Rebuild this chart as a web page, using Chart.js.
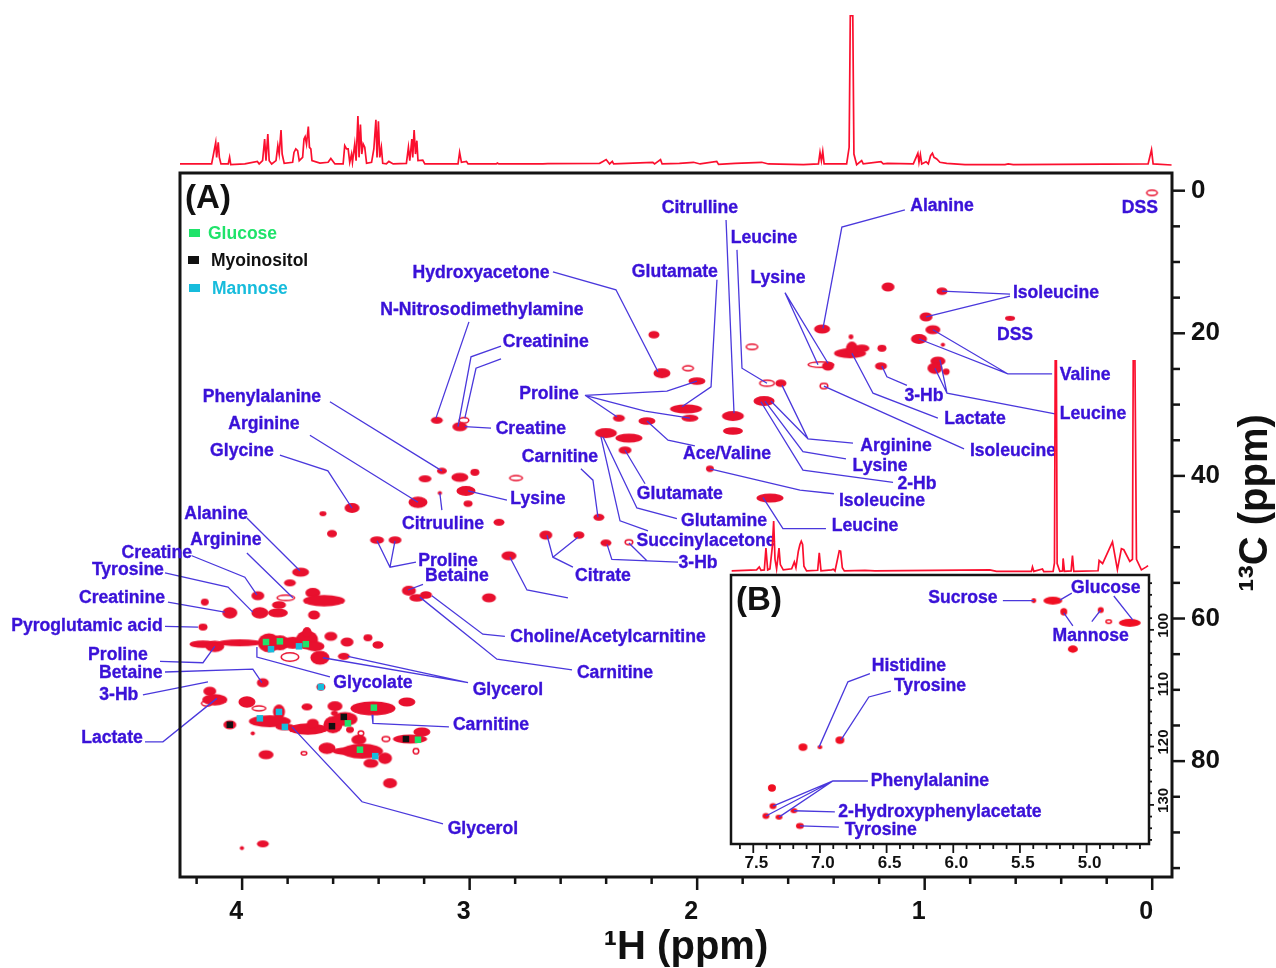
<!DOCTYPE html>
<html>
<head>
<meta charset="utf-8">
<title>2D HSQC spectrum</title>
<script src="https://cdn.jsdelivr.net/npm/chart.js@4"></script>
<style>
    html, body { margin: 0; background: #fff; overflow: hidden; }
    canvas { position: absolute; }
</style>
</head>
<body>
<canvas id="topSpec" style="left:180px;top:15px" width="992" height="153"></canvas>
<canvas id="main" style="left:0;top:0" width="1276" height="968"></canvas>
<canvas id="insetSpec" style="left:731px;top:360px" width="418" height="215"></canvas>
<canvas id="inset" style="left:0;top:0" width="1276" height="968"></canvas>
<script>
// 1H projection above panel A
const topSpecH = [4.277,4.134,4.127,4.116,4.112,4.105,4.100,4.093,4.061,4.055,4.050,3.988,3.933,3.925,3.910,3.901,3.895,3.887,3.881,3.870,3.851,3.843,3.837,3.829,3.824,3.815,3.778,3.772,3.764,3.756,3.749,3.734,3.728,3.723,3.717,3.709,3.704,3.698,3.693,3.658,3.622,3.610,3.592,3.556,3.549,3.541,3.534,3.527,3.519,3.515,3.505,3.499,3.491,3.486,3.480,3.474,3.468,3.461,3.453,3.431,3.421,3.412,3.407,3.401,3.395,3.388,3.382,3.366,3.355,3.336,3.278,3.269,3.263,3.254,3.250,3.244,3.238,3.232,3.227,3.206,3.197,3.051,3.044,3.036,3.014,3.007,2.883,2.878,2.872,2.678,2.656,2.429,2.414,2.400,2.385,2.373,2.367,2.195,2.187,2.161,2.154,2.078,2.016,1.987,1.914,1.906,1.833,1.716,1.687,1.533,1.467,1.460,1.454,1.448,1.442,1.343,1.332,1.327,1.316,1.311,1.299,1.277,1.270,1.192,1.182,1.164,1.050,1.030,1.025,1.019,1.013,0.994,0.984,0.974,0.966,0.959,0.947,0.933,0.903,0.823,0.647,0.633,0.611,0.018,0.003,-0.004,-0.085];
const topSpecI = [0.7,0.7,6.2,15.1,5.1,15.1,5.1,0.7,0.7,5.1,0.2,0.7,2.4,0.7,2.9,17.3,2.9,20.7,2.9,0.7,2.9,12.9,7.3,23.3,7.3,1.1,1.8,8.4,10.7,9.6,2.9,5.1,17.3,18.9,14,25.6,11.8,10.7,2.9,1.3,1.8,4.4,0.7,0.7,12.9,10.7,10.7,1.8,7.3,1.8,14,2.9,32.7,5.1,26.9,7.3,14,11.8,1.1,1.8,10.7,30.2,5.1,29.1,5.1,11.8,1.1,0.7,2.4,0.7,1.1,11.8,2.9,17.3,5.1,23.3,7.3,16.2,2.9,3.3,0.7,0.7,8.4,1.8,2.4,0.7,0.7,1.3,0.7,0.7,0.9,1.1,2.4,3.6,0.7,2.4,0.7,1.8,0.7,3.6,0.7,1.1,1.8,0.7,2.4,0.4,1.1,1.8,0.7,0.2,0.7,8.4,2.9,9.1,0.7,0.7,11.8,99.5,99.5,7.3,0.2,2.9,0.7,2.2,0.7,1.1,0.7,7.8,1.8,6.9,0.7,2.2,0.7,6.2,7.8,5.1,4,1.8,1.1,0.2,0.2,0.7,0.2,0.7,10.2,0.7,0];

// 1H projection above panel B
const insetSpecH = [7.662,7.475,7.455,7.442,7.417,7.405,7.392,7.375,7.357,7.347,7.337,7.325,7.307,7.297,7.275,7.212,7.192,7.180,7.162,7.150,7.140,7.130,7.120,7.100,7.017,7.005,6.992,6.912,6.900,6.887,6.855,6.845,6.832,6.817,6.662,6.587,5.726,5.676,5.414,5.406,5.396,5.331,5.321,5.251,5.241,5.235,5.227,5.221,5.201,5.180,5.176,5.166,5.116,5.106,5.096,4.914,4.906,4.880,4.806,4.769,4.739,4.721,4.676,4.656,4.650,4.638,4.626,4.589,4.552,4.539];
const insetSpecI = [0.5,1,2.4,0.8,1,11.3,1,1.5,12,24,6,1.5,11.3,3.5,1,1.5,4.7,2,9.8,13,14.5,13,2.7,0.5,0.8,9,0.5,1,1.3,0.5,10,9.8,2,0.5,0.8,0.5,1,0.3,0.3,2.4,0.3,1.4,0.2,0.3,4.3,105,105,4,0.3,0.5,6.4,0.3,0.5,7.8,0.3,0.6,5.4,4,14.2,1.1,11,10.5,5,6,105,105,6,1,2.4,3];

// cross peaks of panel A: [1H, 13C, 1H extent, 13C extent] in ppm
const sugarPeaks = [[3.743,53.5,.066,1.0],[3.790,55.0,.044,.7],[3.689,56.4,.057,1.1],[3.640,57.5,.176,1.3],[3.931,56.8,.048,1.0],[3.838,58.1,.053,.8],[3.922,59.2,.066,1.3],[3.843,59.2,.079,1.0],[4.054,59.2,.057,1.3],[4.164,57.7,.026,.7],[3.684,59.5,.044,1.0],[4.172,61.2,.031,.7],[4.172,63.6,.11,.8],[4.120,63.9,.075,1.3],[4.010,63.4,.189,.7],[3.882,63.4,.088,2.4],[3.834,63.4,.075,1.8],[3.777,63.4,.088,1.4],[3.715,63.0,.088,2.4],[3.680,63.9,.075,1.1],[3.715,61.9,.031,1.1],[3.610,62.5,.048,1.0],[3.539,63.3,.048,1.0],[3.447,62.7,.031,.7],[3.403,63.7,.04,.8],[3.658,65.5,.075,1.7],[3.553,65.3,.044,.7],[3.909,69.0,.044,1.0],[4.142,70.2,.048,1.0],[4.120,71.4,.101,1.3],[3.979,71.7,.066,1.3],[3.654,69.6,.031,.8],[3.715,72.4,.04,.7],[3.592,72.3,.057,1.1],[3.425,72.6,.189,1.7],[3.276,71.7,.066,1.0],[4.054,74.9,.048,1.0],[3.838,73.1,.044,1.8],[3.878,74.4,.176,1.4],[3.812,75.2,.075,.7],[3.711,75.5,.163,1.3],[3.689,74.7,.044,1.0],[3.601,74.9,.075,2.1],[3.548,74.1,.101,1.7],[3.526,75.6,.026,.6],[3.594,73.3,.022,.4],[3.487,77.0,.057,1.1],[3.262,76.9,.141,1.0],[3.210,75.9,.066,1.0],[3.627,78.2,.066,1.3],[3.539,78.6,.119,.8],[3.473,78.6,.176,1.8],[3.434,80.3,.057,1.0],[3.372,79.6,.053,1.3],[3.350,83.1,.053,1.1],[3.895,79.1,.057,1.0],[3.909,91.6,.044,.7],[4.001,92.2,.01,.3],[3.953,76.1,.01,.3]];
const midPeaks = [[2.155,25.6,.066,1.1],[2.001,26.7,.066,.8],[2.049,30.6,.132,1.0],[2.032,31.9,.066,.7],[2.221,32.3,.066,.8],[2.344,31.9,.044,.7],[2.401,34.0,.088,1.1],[2.300,34.7,.11,1.0],[2.317,36.4,.048,.8],[1.944,39.0,.026,.6],[3.144,32.2,.044,.7],[3.043,33.1,.057,1.0],[3.122,39.3,.035,.6],[3.196,40.4,.048,.7],[3.043,40.2,.066,1.0],[2.977,39.5,.031,.7],[3.016,42.1,.075,1.1],[3.007,43.9,.031,.6],[3.227,43.7,.075,1.3],[2.871,46.5,.04,.7],[3.131,42.4,.01,.3],[2.432,45.8,.04,.7],[2.665,48.3,.048,1.0],[2.520,48.3,.04,.8],[2.401,49.4,.04,.7],[2.827,51.2,.057,1.0],[2.915,57.1,.053,1.0],[3.267,56.1,.053,1.1],[3.192,56.7,.044,.8],[3.232,57.1,.057,.8],[3.605,48.1,.035,.8],[3.645,45.3,.022,.4],[3.517,44.5,.057,1.1],[3.407,49.0,.053,.8],[3.328,49.0,.048,.8],[2.190,20.2,.04,.8]];
const methylPeaks = [[1.161,13.5,.048,1.0],[.924,14.1,.04,.8],[1.451,19.4,.062,1.0],[.994,17.7,.048,1.0],[.964,19.5,.057,1.0],[1.025,20.8,.062,1.1],[.920,21.6,.01,.3],[1.324,20.5,.013,.4],[1.328,22.8,.132,1.1],[1.320,22.2,.044,1.8],[1.276,22.1,.057,.8],[1.188,22.1,.031,.7],[1.192,24.6,.044,.8],[1.425,24.6,.044,1.0],[1.632,27.0,.04,.8],[1.706,29.5,.084,1.1],[.942,23.9,.057,1.0],[.955,24.9,.057,1.3],[.906,25.4,.022,.6],[1.843,31.6,.088,1.1],[1.843,33.7,.079,.8],[1.680,43.1,.11,1.0],[.625,17.9,.035,.4]];
// the ones that show as open contours
const openPeaks = [[3.808,57.1,.075,.7],[3.790,65.4,.075,1.1],[4.155,71.9,.044,.7],[3.926,72.6,.057,.6],[3.478,76.1,.022,.6],[3.368,76.9,.031,.6],[3.236,78.6,.022,.7],[3.728,78.9,.022,.4],[2.040,24.9,.044,.6],[3.025,32.2,.04,.7],[2.796,40.3,.053,.6],[2.300,49.3,.031,.6],[1.759,21.9,.048,.7],[1.456,24.4,.11,.7],[1.443,27.4,.031,.7],[1.693,27.0,.062,.8],[.001,.3,.044,.7]];

// sugar assignment squares of panel A: [1H, 13C]
const glucosePoints = [[3.895,63.3],[3.834,63.2],[3.720,63.6],[3.421,72.5],[3.535,74.7],[3.482,78.4],[3.227,77.0]];
const myoinositolPoints = [[4.054,74.9],[3.553,73.8],[3.605,75.1],[3.280,76.9]];
const mannosePoints = [[3.873,64.3],[3.750,63.9],[3.654,69.6],[3.838,73.1],[3.922,74.0],[3.812,75.2],[3.415,79.3]];

// cross peaks of panel B
const insetPeaks = [[5.396,95.0,.022,.5],[5.253,95.0,.127,1.0],[5.171,96.9,.037,.9],[4.894,96.6,.03,.7],[4.676,98.8,.15,1.0],[5.103,103.3,.06,.9],[7.127,120.1,.052,.9],[7.0,120.1,.022,.3],[6.85,118.9,.052,.9],[7.36,127.1,.045,.9],[7.352,130.2,.037,.7],[7.405,131.9,.037,.7],[7.307,132.1,.037,.5],[7.195,131.0,.037,.5],[7.150,133.6,.045,.7]];
const insetOpenPeaks = [[4.834,98.6,.037,.5]];

// assignment leader lines: H,C,H,C,...
const mainLeaders = [
    [1.087,2.7,1.364,5.1,1.447,19.3],
    [1.873,4.1,1.838,31.2],
    [1.825,8.3,1.803,24.9,1.693,27.0],
    [1.913,12.5,1.939,27.5,2.067,30.3],
    [2.634,11.4,2.357,13.9,2.172,25.4],
    [3.003,18.4,3.148,31.9],
    [2.862,21.8,2.994,23.3,3.051,33.1],
    [2.862,23.6,2.972,24.9,3.021,31.9],
    [2.906,33.3,3.021,33.1],
    [2.493,28.7,2.133,28.1,2.001,26.7],
    [2.493,28.7,2.229,30.9,2.032,31.9],
    [2.493,28.7,2.353,31.7],
    [2.221,32.3,2.128,35.0,2.010,35.8],
    [2.317,36.4,2.229,41.1],
    [2.414,34.5,2.265,44.5,2.089,46.0],
    [2.423,34.5,2.339,46.3,2.216,47.7],
    [2.511,39.0,2.458,40.6,2.436,45.8],
    [3.007,42.1,2.836,43.4],
    [2.084,52.1,2.375,51.7,2.396,49.6],
    [2.221,51.9,2.300,49.4],
    [2.660,48.3,2.634,51.4,2.546,52.8],
    [2.634,51.4,2.524,48.6],
    [2.823,51.4,2.748,56.0,2.568,57.1],
    [3.122,44.8,3.131,42.4],
    [3.614,29.6,3.122,39.3],
    [3.702,34.3,3.227,43.7],
    [3.834,37.1,3.623,39.3,3.517,44.5],
    [3.236,52.1,3.350,52.8,3.407,49.1],
    [3.350,52.8,3.328,49.1],
    [3.205,55.2,3.271,56.0],
    [3.166,56.8,2.942,62.2,2.845,62.5],
    [3.219,57.0,2.880,65.7,2.550,67.2],
    [3.979,45.9,3.746,53.3],
    [4.221,51.2,3.988,54.2,3.935,56.7],
    [3.979,50.8,3.777,57.1],
    [4.339,53.6,4.062,55.6,3.953,59.1],
    [4.326,57.7,4.076,59.1],
    [4.339,61.1,4.194,61.2],
    [4.361,66.0,4.172,66.2,4.120,63.9],
    [4.339,67.5,3.953,67.1,3.913,69.0],
    [4.436,70.7,4.150,68.9],
    [4.427,77.3,4.348,77.3,4.111,71.2],
    [3.935,64.0,3.935,65.4,3.614,68.2],
    [3.645,65.5,3.007,69.0],
    [3.535,65.3,3.007,69.0],
    [3.429,73.5,3.425,74.7,3.091,75.2],
    [3.781,75.2,3.473,85.7,3.117,88.8],
    [1.614,14.3,1.469,24.4],
    [1.614,14.3,1.425,24.2],
    [1.188,24.6,1.166,26.1,1.078,27.3],
    [1.320,22.8,1.227,28.4,0.942,31.9],
    [1.443,27.4,0.827,36.2],
    [0.625,14.5,0.924,14.1],
    [0.625,14.8,0.994,17.7],
    [0.964,19.5,0.634,25.7,0.440,25.7],
    [1.025,20.8,0.634,25.7],
    [0.955,24.9,0.902,28.4,0.427,31.3],
    [0.933,23.7,0.902,28.4],
    [1.627,27.3,1.513,34.8,1.315,35.4],
    [1.676,29.5,1.513,34.8],
    [1.702,29.5,1.535,36.6,1.346,37.6],
    [1.720,29.6,1.535,39.2,1.139,40.9],
    [1.944,39.0,1.548,42.0,1.399,42.5],
    [1.711,43.0,1.623,47.4,1.434,47.4]
];
const insetLeaders = [
    [5.628,95.0,5.396,95.0],
    [5.201,94.9,5.111,93.7],
    [4.796,94.2,4.654,98.3],
    [5.103,99.3,5.171,97.1],
    [4.961,98.6,4.894,96.6],
    [6.625,107.5,6.790,108.9,7.007,120.1],
    [6.468,110.5,6.633,111.5,6.843,118.9],
    [6.640,125.9,6.903,125.9,7.352,130.2],
    [6.903,125.9,7.405,131.9],
    [6.903,125.9,7.307,132.1],
    [6.888,131.2,7.195,131.0],
    [6.858,133.8,7.150,133.6]
];

// labels
const mainLabels = ['Citrulline','Alanine','DSS','Leucine','Hydroxyacetone','Glutamate','Lysine','Isoleucine','N-Nitrosodimethylamine','DSS','Creatinine','Valine','Proline','Phenylalanine','3-Hb','Leucine','Lactate','Arginine','Creatine','Arginine','Glycine','Ace/Valine','Isoleucine','Carnitine','Lysine','2-Hb','Glutamate','Lysine','Isoleucine','Alanine','Citruuline','Glutamine','Leucine','Arginine','Succinylacetone','Creatine','Proline','3-Hb','Tyrosine','Betaine','Citrate','Creatinine','Pyroglutamic acid','Choline/Acetylcarnitine','Proline','Betaine','Carnitine','Glycolate','Glycerol','3-Hb','Carnitine','Lactate','Glycerol'];
const mainLabelH = [1.988,.924,.054,1.706,2.950,2.098,1.645,.423,2.946,.603,2.665,.295,2.651,3.913,1.003,.260,.779,3.904,2.731,1.126,4.001,1.869,.612,2.603,1.196,1.034,2.076,2.700,1.188,4.115,3.117,1.882,1.262,4.071,1.961,4.375,3.095,1.996,4.502,3.056,2.414,4.528,4.682,2.392,4.546,4.489,2.361,3.425,2.832,4.542,2.906,4.572,2.942];
const mainLabelC = [2.5,2.1,2.4,6.6,11.5,11.4,12.3,14.4,16.8,20.3,21.3,25.8,28.5,28.9,28.8,31.4,32.1,32.7,33.4,35.8,36.5,36.9,36.5,37.3,38.6,41.2,42.6,43.2,43.5,45.3,46.7,46.3,47.1,49.0,49.2,50.9,51.9,52.2,53.2,54.1,54.0,57.1,61.0,62.6,65.2,67.7,67.6,69.0,70.0,70.8,75.0,76.8,89.5];
const insetLabels = ['Sucrose','Glucose','Mannose','Histidine','Tyrosine','Phenylalanine','2-Hydroxyphenylacetate','Tyrosine'];
const insetLabelH = [5.928,4.856,4.969,6.333,6.175,6.175,6.100,6.543];
const insetLabelC = [94.5,92.8,101.1,106.2,109.6,125.9,131.2,134.3];
const legendNames = ['Glucose','Myoinositol','Mannose'];

// tick positions
const mainXTicks = [4.2,4,3.8,3.6,3.4,3.2,3,2.8,2.6,2.4,2.2,2,1.8,1.6,1.4,1.2,1,0.8,0.6,0.4,0.2,0];
const mainXLabels = [4,3,2,1,0];
const mainYTicks = [0,5,10,15,20,25,30,35,40,45,50,55,60,65,70,75,80,85,90,95];
const mainYLabels = [0,20,40,60,80];
const insetXTicks = [7.6,7.5,7.4,7.3,7.2,7.1,7,6.9,6.8,6.7,6.6,6.5,6.4,6.3,6.2,6.1,6,5.9,5.8,5.7,5.6,5.5,5.4,5.3,5.2,5.1,5,4.9,4.8,4.7,4.6];
const insetXLabels = [7.5,7,6.5,6,5.5,5];
const insetYTicks = [92,94,96,98,100,102,104,106,108,110,112,114,116,118,120,122,124,126,128,130,132,134,136];
const insetYLabels = [100,110,120,130];

const RED = '#e8102e';
const BLUE = '#3a12d8';
const LINE_BLUE = '#4a38dc';
const SQUARES = { Glucose: '#1fe36a', Myoinositol: '#111111', Mannose: '#17bcdc' };
const LABEL_FONT = 'bold 17.6px "Liberation Sans", Arial, sans-serif';

const toPoints = list => list.map(p => ({ x: p[0], y: p[1], dx: p[2], dy: p[3] }));

function leaderPoints(lines) {
    const pts = [];
    lines.forEach(line => {
        for (let i = 0; i < line.length; i += 2) pts.push({ x: line[i], y: line[i + 1] });
        pts.push({ x: null, y: null });
    });
    return pts;
}

// elliptical contour sprite sized through the chart's scales
function peakSprite(c, color, open) {
    const p = c.raw;
    if (!p || !p.dx) return 'circle';
    const sx = c.chart.scales.x, sy = c.chart.scales.y;
    const w = Math.max(2, Math.abs(sx.getPixelForValue(p.x + p.dx / 2) - sx.getPixelForValue(p.x - p.dx / 2))) + 2;
    const h = Math.max(2, Math.abs(sy.getPixelForValue(p.y + p.dy / 2) - sy.getPixelForValue(p.y - p.dy / 2))) + 2;
    const cv = document.createElement('canvas');
    cv.width = Math.ceil(w) + 2;
    cv.height = Math.ceil(h) + 2;
    const g = cv.getContext('2d');
    g.fillStyle = color;
    g.beginPath();
    g.ellipse(cv.width / 2, cv.height / 2, w / 2, h / 2, 0, 0, Math.PI * 2);
    g.fill();
    if (open) {
        g.fillStyle = '#fff';
        g.beginPath();
        g.ellipse(cv.width / 2, cv.height / 2, w / 2 - 1.5, Math.max(0.6, h / 2 - 1.5), 0, 0, Math.PI * 2);
        g.fill();
    }
    return cv;
}

function peakDataset(list, color, open) {
    return {
        data: toPoints(list),
        order: 3,
        showLine: false,
        pointRadius: 3,
        pointBorderWidth: 0,
        pointStyle: c => peakSprite(c, color, open)
    };
}

function squareDataset(list, color) {
    return {
        data: list.map(p => ({ x: p[0], y: p[1] })),
        order: 0,
        showLine: false,
        pointStyle: 'rect',
        pointRadius: 4.6,
        pointBorderWidth: 0,
        pointBackgroundColor: color
    };
}

function leaderDataset(lines) {
    return {
        data: leaderPoints(lines),
        order: 1,
        showLine: true,
        clip: false,
        spanGaps: false,
        borderColor: LINE_BLUE,
        borderWidth: 1.3,
        pointRadius: 0
    };
}

function framePlugin(cfg) {
    return {
        id: 'frame',
        beforeDatasetsDraw(chart) {
            const a = chart.chartArea, g = chart.ctx;
            g.save();
            g.fillStyle = '#fff';
            g.fillRect(a.left, a.top, a.right - a.left, a.bottom - a.top);
            g.restore();
        },
        afterDraw(chart) {
            const a = chart.chartArea, g = chart.ctx;
            g.save();
            g.strokeStyle = '#141414';
            g.lineWidth = cfg.tickWidth;
            cfg.xTicks.forEach(v => {
                const x = chart.scales.x.getPixelForValue(v);
                const len = cfg.xMajor.includes(v) ? cfg.xLen[0] : cfg.xLen[1];
                g.beginPath();
                g.moveTo(x, a.bottom);
                g.lineTo(x, a.bottom + len);
                g.stroke();
            });
            cfg.yTicks.forEach(v => {
                const y = chart.scales.y.getPixelForValue(v);
                const len = cfg.yMajor.includes(v) ? cfg.yLen[0] : cfg.yLen[1];
                g.beginPath();
                g.moveTo(a.right, y);
                g.lineTo(a.right + len, y);
                g.stroke();
            });
            g.lineWidth = cfg.boxWidth;
            g.strokeRect(a.left, a.top, a.right - a.left, a.bottom - a.top);
            g.restore();
        }
    };
}

function textPlugin(texts, hs, cs, panel) {
    return {
        id: 'texts',
        afterDraw(chart) {
            const g = chart.ctx, sx = chart.scales.x, sy = chart.scales.y;
            g.save();
            g.textAlign = 'center';
            g.textBaseline = 'middle';
            g.fillStyle = BLUE;
            g.strokeStyle = BLUE;
            g.lineWidth = 0.35;
            g.font = LABEL_FONT;
            texts.forEach((t, i) => {
                g.fillText(t, sx.getPixelForValue(hs[i]), sy.getPixelForValue(cs[i]));
                g.strokeText(t, sx.getPixelForValue(hs[i]), sy.getPixelForValue(cs[i]));
            });
            g.fillStyle = '#111';
            g.font = 'bold 33px "Liberation Sans", Arial, sans-serif';
            g.fillText(panel.text, sx.getPixelForValue(panel.h), sy.getPixelForValue(panel.c));
            g.restore();
        }
    };
}

// panel A legend and the two axis titles
const mainExtras = {
    id: 'mainExtras',
    afterDraw(chart) {
        const g = chart.ctx, a = chart.chartArea;
        g.save();
        g.textBaseline = 'middle';
        g.textAlign = 'left';
        g.font = 'bold 17.5px "Liberation Sans", Arial, sans-serif';
        const rows = [[a.left + 9, 60, a.left + 28], [a.left + 8, 87, a.left + 31], [a.left + 9, 115, a.left + 32]];
        legendNames.forEach((name, i) => {
            g.fillStyle = SQUARES[name];
            g.fillRect(rows[i][0], a.top + rows[i][1] - 4, 11, 8);
            g.fillText(name, rows[i][2], a.top + rows[i][1] + 1);
        });
        g.fillStyle = '#111';
        g.textAlign = 'center';
        g.font = 'bold 40px "Liberation Sans", Arial, sans-serif';
        g.fillText('\u00b9H (ppm)', a.left + 506, a.bottom + 71);
        g.translate(a.right + 84, a.top + 330);
        g.rotate(-Math.PI / 2);
        g.fillText('\u00b9\u00b3C (ppm)', 0, 0);
        g.restore();
    }
};

function axis(min, max, ticks, labels, opts) {
    return {
        type: 'linear',
        position: opts.position,
        min: min,
        max: max,
        reverse: !!opts.reverse,
        grid: { display: false, drawTicks: false },
        border: { display: false },
        afterBuildTicks: s => { s.ticks = ticks.map(v => ({ value: v })); },
        afterFit: s => {
            if (opts.position === 'bottom') s.height = opts.size;
            else s.width = opts.size;
        },
        ticks: {
            autoSkip: false,
            minRotation: opts.rotation || 0,
            maxRotation: opts.rotation || 0,
            padding: opts.padding,
            labelOffset: opts.offset || 0,
            color: '#111',
            font: opts.font,
            callback: v => (labels.includes(v) ? (opts.digits ? v.toFixed(opts.digits) : String(v)) : '')
        }
    };
}

const baseOptions = {
    responsive: false,
    animation: false,
    events: [],
    plugins: { legend: { display: false }, tooltip: { enabled: false } }
};

function specChart(id, hs, is, xMin, xMax, bottomPad) {
    return new Chart(document.getElementById(id), {
        type: 'scatter',
        data: {
            datasets: [{
                data: hs.map((h, i) => ({ x: h, y: is[i] })),
                showLine: true,
                borderColor: '#fb0f2e',
                borderWidth: 1.7,
                pointRadius: 0,
                clip: { left: 0, top: 0, right: 0, bottom: bottomPad }
            }]
        },
        options: {
            ...baseOptions,
            layout: { padding: { bottom: bottomPad } },
            scales: {
                x: { type: 'linear', display: false, min: xMin, max: xMax, reverse: true },
                y: { type: 'linear', display: false, min: 0, max: 100 }
            }
        }
    });
}

specChart('topSpec', topSpecH, topSpecI, -0.087, 4.273, 3);

new Chart(document.getElementById('main'), {
    type: 'scatter',
    data: {
        datasets: [
            peakDataset(sugarPeaks, RED, false),
            peakDataset(midPeaks, RED, false),
            peakDataset(methylPeaks, RED, false),
            peakDataset(openPeaks, RED, true),
            leaderDataset(mainLeaders),
            squareDataset(glucosePoints, SQUARES.Glucose),
            squareDataset(myoinositolPoints, SQUARES.Myoinositol),
            squareDataset(mannosePoints, SQUARES.Mannose)
        ]
    },
    options: {
        ...baseOptions,
        layout: { padding: { left: 180, top: 173 } },
        scales: {
            x: axis(-0.087, 4.273, mainXTicks, mainXLabels, {
                position: 'bottom', reverse: true, size: 91, padding: 20, offset: -6,
                font: { family: '"Liberation Sans", Arial', weight: 'bold', size: 25 }
            }),
            y: axis(-2.48, 96.25, mainYTicks, mainYLabels, {
                position: 'right', reverse: true, size: 104, padding: 19,
                font: { family: '"Liberation Sans", Arial', weight: 'bold', size: 26 }
            })
        }
    },
    plugins: [
        framePlugin({ xTicks: mainXTicks, xMajor: mainXLabels, yTicks: mainYTicks, yMajor: mainYLabels, xLen: [13, 7], yLen: [13, 8], tickWidth: 2.5, boxWidth: 3 }),
        textPlugin(mainLabels, mainLabelH, mainLabelC, { text: '(A)', h: 4.150, c: 1.2 }),
        mainExtras
    ]
});

specChart('insetSpec', insetSpecH, insetSpecI, 4.532, 7.667, 3);

new Chart(document.getElementById('inset'), {
    type: 'scatter',
    data: {
        datasets: [
            peakDataset(insetPeaks, '#f00f22', false),
            peakDataset(insetOpenPeaks, '#f00f22', true),
            leaderDataset(insetLeaders)
        ]
    },
    options: {
        ...baseOptions,
        layout: { padding: { left: 731, top: 575 } },
        scales: {
            x: axis(4.532, 7.667, insetXTicks, insetXLabels, {
                position: 'bottom', reverse: true, size: 124, padding: 9, digits: 1, offset: 3,
                font: { family: '"Liberation Sans", Arial', weight: 'bold', size: 17 }
            }),
            y: axis(90.6, 136.7, insetYTicks, insetYLabels, {
                position: 'right', reverse: true, size: 127, padding: 15, rotation: 90, offset: 8,
                font: { family: '"Liberation Sans", Arial', weight: 'bold', size: 15 }
            })
        }
    },
    plugins: [
        framePlugin({ xTicks: insetXTicks, xMajor: insetXLabels, yTicks: insetYTicks, yMajor: insetYLabels, xLen: [9, 5], yLen: [5, 3], tickWidth: 1.8, boxWidth: 2.5 }),
        textPlugin(insetLabels, insetLabelH, insetLabelC, { text: '(B)', h: 7.457, c: 95.0 })
    ]
});
</script>
</body>
</html>
